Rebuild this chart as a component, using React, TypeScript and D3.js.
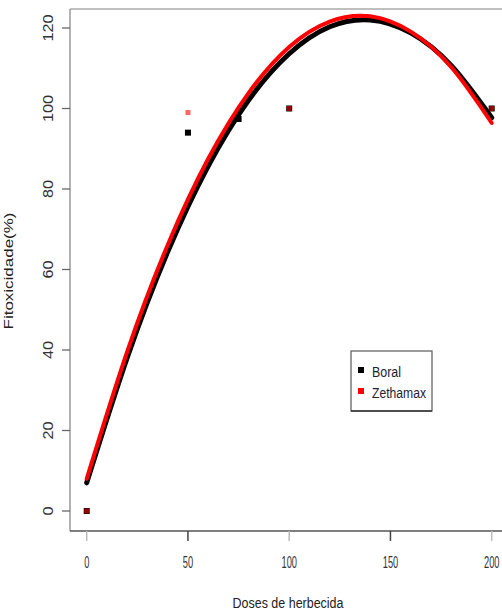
import * as d3 from 'd3'

// observed points
const boralDoses = [0, 50, 75, 100, 200]
const boralValues = [0, 94, 97.4, 100, 100]
const zethDoses = [0, 50, 100, 200]
const zethValues = [0, 99, 100, 100]

// fitted curves at every 20 units of dose
const curveDoses = [0, 20, 40, 60, 80, 100, 120, 140, 160, 180, 200]
const boralFit = [7, 38.1, 64.4, 85.7, 102.1, 113.6, 120.3, 122.0, 118.8, 110.7, 97.7]
const zethFit = [8, 39.6, 66.1, 87.5, 103.9, 115.3, 121.6, 122.9, 119.1, 110.3, 96.4]

const xTicks = [0, 50, 100, 150, 200]
const yTicks = [0, 20, 40, 60, 80, 100, 120]
const legendLabels = ['Boral', 'Zethamax']
const legendColors = ['#000', '#f00']

const W = 502
const H = 612
const box = { left: 70, top: 9, right: 504, bottom: 531 }

const x = d3.scaleLinear().domain([0, 200]).range([86.7, 491.7])
const y = d3.scaleLinear().domain([0, 120]).range([511, 28])

const font = '"Liberation Sans", Arial, sans-serif'

function fitPath(vals: number[]) {
  const pts = curveDoses.map((d, i) => [d, vals[i]] as [number, number])
  return d3.line<[number, number]>()
    .x(d => x(d[0]))
    .y(d => y(d[1]))
    .curve(d3.curveNatural)(pts) || ''
}

export default function App() {
  return (
    <svg width={W} height={H} style={{ position: 'absolute', left: 0, top: 0, background: '#fff' }}>
      {/* plot frame */}
      <line x1={box.left} x2={box.right} y1={box.top} y2={box.top} stroke="#aaa" strokeWidth={1.5} />
      <line x1={box.left} x2={box.left} y1={box.top} y2={box.bottom} stroke="#999" strokeWidth={1.5} />
      <line x1={box.left} x2={box.right} y1={box.bottom} y2={box.bottom} stroke="#555" strokeWidth={1.5} />

      {/* y axis */}
      {yTicks.map(t => (
        <g key={'y' + t}>
          <line x1={box.left - 8} x2={box.left} y1={y(t)} y2={y(t)} stroke="#666" strokeWidth={1.3} />
          <text
            transform={`translate(53,${y(t)}) rotate(-90) scale(1.16,1)`}
            textAnchor="middle" fontFamily={font} fontSize={14} fill="#333"
          >{t}</text>
        </g>
      ))}

      {/* x axis */}
      {xTicks.map(t => (
        <g key={'x' + t}>
          <line x1={x(t)} x2={x(t)} y1={box.bottom} y2={box.bottom + 10} stroke={t % 100 === 0 ? '#bbb' : '#444'} strokeWidth={1.5} />
          <text
            transform={`translate(${x(t)},568) scale(0.58,1)`}
            textAnchor="middle" fontFamily={font} fontSize={16} fill="#333"
          >{t}</text>
        </g>
      ))}

      {/* axis titles */}
      <text x={288} y={608} textAnchor="middle" fontFamily={font} fontSize={14} fill="#222"
        textLength={111} lengthAdjust="spacingAndGlyphs">Doses de herbecida</text>
      <text transform="translate(13,271) rotate(-90)" textAnchor="middle" fontFamily={font} fontSize={13} fill="#222"
        textLength={117} lengthAdjust="spacingAndGlyphs">Fitoxicidade(%)</text>

      {/* points */}
      {boralDoses.map((d, i) => (
        <rect key={'b' + i} x={x(d) - 3} y={y(boralValues[i]) - 3} width={6} height={6} fill="#000" />
      ))}
      {zethDoses.map((d, i) => (
        <rect key={'z' + i} x={x(d) - 2.5} y={y(zethValues[i]) - 2.5} width={5} height={5} fill="#f00" opacity={0.6} />
      ))}

      {/* fitted curves */}
      <path d={fitPath(boralFit)} fill="none" stroke="#000" strokeWidth={5} strokeLinecap="round" />
      <path d={fitPath(zethFit)} fill="none" stroke="#f00" strokeWidth={4} strokeLinecap="round" />

      {/* legend */}
      <rect x={351} y={351} width={81} height={60} fill="#fff" stroke="#666" strokeWidth={1.3} />
      <line x1={351} x2={432} y1={411} y2={411} stroke="#333" strokeWidth={1.5} />
      {legendLabels.map((l, i) => (
        <g key={l}>
          <rect x={358} y={367 + i * 21} width={6} height={6} fill={legendColors[i]} />
          <text x={372} y={377 + i * 21} fontFamily={font} fontSize={14} fill="#223"
            textLength={l === 'Boral' ? 29 : 54} lengthAdjust="spacingAndGlyphs">{l}</text>
        </g>
      ))}
    </svg>
  )
}
